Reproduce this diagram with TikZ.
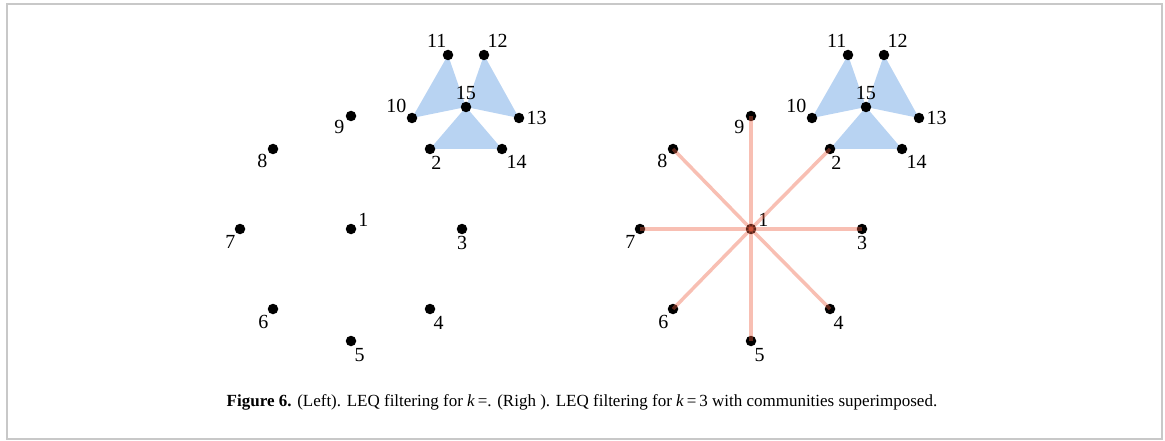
\documentclass[tikz,border=0pt]{standalone}
\usepackage{fontspec}
\setmainfont{Liberation Serif}
\usetikzlibrary{positioning}
\definecolor{community blue}{RGB}{184,211,242}
\definecolor{filter red}{RGB}{238,96,66}
\definecolor{frame gray}{RGB}{200,200,200}
\tikzset{
  leq vertex/.style={circle,fill=black,minimum size=10.5pt,inner sep=0pt},
  leq label/.style={font=\fontsize{20}{20}\selectfont,inner sep=0.5pt,
    label distance=1.5pt},
  leq edge/.style={draw=filter red,draw opacity=0.4,line width=3.5pt},
  community/.style={fill=community blue}
}

\begin{document}
\begin{tikzpicture}[x=1pt,y=-1pt]
    \useasboundingbox (0,0) rectangle (1165,441);
    \draw[frame gray,line width=2pt] (7,4) rectangle (1162,439);
    % vertex positions, left panel; right panel is shifted by 400
    \foreach \n/\x/\y in {1/351/229,2/430/149,3/462/229,4/430/309,
      5/351/341,6/273/309,7/240/229,8/273/149,9/351/116,10/412/118,
      11/448/55,12/484/55,13/519/118,14/502/149,15/466/107}{
      \coordinate (left\n) at (\x,\y);
      \coordinate (right\n) at (\x+400,\y);
    }
    % communities
    \foreach \side in {left,right}{
      \fill[community] (\side11) -- (\side15) -- (\side10) -- cycle;
      \fill[community] (\side12) -- (\side13) -- (\side15) -- cycle;
      \fill[community] (\side15) -- (\side14) -- (\side2) -- cycle;
    }
    \foreach \n/\a in {1/15,2/-85,3/-90,4/-65,5/-65,6/-125,7/-125,
      8/-135,9/-150,10/135,11/97,12/65,13/-2,14/-55,15/92}{
      \node[leq vertex,label={[leq label]\a:\n}] (leftdot\n) at (left\n) {};
      \node[leq vertex,label={[leq label]\a:\n}] (rightdot\n) at (right\n) {};
    }
    \foreach \to in {2,...,9}
      \draw[leq edge] (rightdot1.center) -- (rightdot\to.center);
    \node[font=\fontsize{17}{20}\selectfont] (caption) at (582,402)
      {\textbf{Figure 6.} (Left). LEQ filtering for \textit{k}\,=. (Righ ).
       LEQ filtering for \textit{k}\,=\,3 with communities superimposed.};
  \end{tikzpicture}
\end{document}
